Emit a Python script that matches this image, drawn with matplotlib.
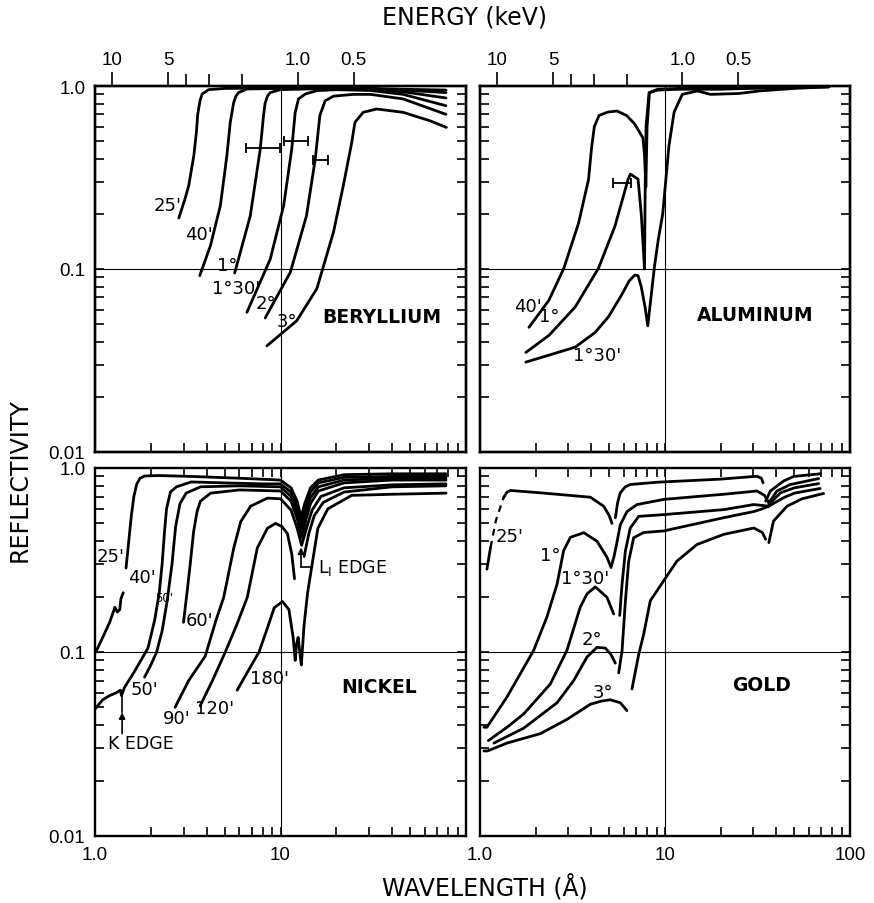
import matplotlib
matplotlib.use("Agg")
import matplotlib.pyplot as plt
from matplotlib.ticker import LogLocator, NullFormatter, FixedLocator

plt.rcParams['font.family'] = ['Liberation Sans', 'DejaVu Sans']
plt.rcParams['mathtext.default'] = 'regular'

# ---------------- DATA ----------------
HC = 12.398  # keV*Angstrom
ENERGY_MAJOR = [10, 5, 1.0, 0.5]
ENERGY_MAJOR_LABELS = ['10', '5', '1.0', '0.5']
ENERGY_MINOR = [4, 3, 2]

# ---- Beryllium ----
BE_25_LAM = [2.83, 3.05, 3.20, 3.41, 3.52, 3.58, 3.68, 3.78, 4.1, 5.0, 10.0, 20.0, 30.6, 45.8, 78.0]
BE_25_R = [0.19, 0.24, 0.285, 0.416, 0.558, 0.70, 0.83, 0.904, 0.955, 0.97, 0.975, 0.975, 0.97, 0.96, 0.95]
BE_40_LAM = [3.67, 4.19, 4.74, 5.14, 5.36, 5.59, 5.75, 5.94, 6.59, 10.0, 20.0, 30.6, 45.8, 78.0]
BE_40_R = [0.092, 0.134, 0.222, 0.416, 0.633, 0.81, 0.88, 0.92, 0.963, 0.97, 0.97, 0.965, 0.95, 0.92]
BE_1_LAM = [5.66, 6.87, 7.78, 8.1, 8.25, 8.5, 8.8, 9.96, 15.0, 20.0, 30.6, 45.8, 78.0]
BE_1_R = [0.095, 0.195, 0.453, 0.69, 0.80, 0.88, 0.92, 0.955, 0.965, 0.965, 0.955, 0.93, 0.86]
BE_130_LAM = [6.59, 8.8, 10.4, 11.5, 12.0, 12.5, 13.6, 15.7, 20.0, 30.6, 45.8, 78.0]
BE_130_R = [0.058, 0.113, 0.222, 0.453, 0.718, 0.85, 0.904, 0.943, 0.955, 0.945, 0.90, 0.78]
BE_2_LAM = [8.27, 11.3, 13.8, 15.4, 16.3, 17.4, 19.3, 24.7, 30.6, 45.8, 78.0]
BE_2_R = [0.054, 0.096, 0.195, 0.40, 0.69, 0.83, 0.88, 0.90, 0.90, 0.85, 0.70]
BE_3_LAM = [8.44, 12.2, 15.7, 19.3, 21.8, 24.2, 25.2, 27.9, 33.0, 45.8, 63.8, 78.4]
BE_3_R = [0.038, 0.052, 0.078, 0.159, 0.285, 0.49, 0.633, 0.718, 0.749, 0.718, 0.646, 0.594]
BE_EB_LO = [6.54, 10.4, 15.0]
BE_EB_HI = [9.96, 14.0, 18.1]
BE_EB_R = [0.458, 0.50, 0.396]
BE_LABELS = ["25'", "40'", "1°", "1°30'", "2°", "3°"]
BE_LABEL_X = [2.47, 3.64, 5.15, 5.75, 8.34, 10.8]
BE_LABEL_Y = [0.224, 0.155, 0.105, 0.0785, 0.065, 0.052]

# ---- Aluminum ----
AL_40_LAM = [1.84, 2.36, 2.84, 3.41, 3.86, 4.0, 4.15, 4.4, 4.9, 5.5, 6.2, 6.86, 7.6, 7.75, 7.88, 8.0, 8.24, 9.14, 12, 20, 40, 77]
AL_40_R = [0.048, 0.0676, 0.101, 0.178, 0.308, 0.45, 0.60, 0.69, 0.72, 0.73, 0.69, 0.62, 0.52, 0.42, 0.28, 0.60, 0.92, 0.96, 0.97, 0.97, 0.98, 0.99]
AL_1_LAM = [1.77, 2.36, 3.27, 4.37, 5.36, 6.31, 6.5, 7.15, 7.44, 7.6, 7.75, 7.82, 7.9, 8.2, 9.14, 12, 20, 40, 77]
AL_1_R = [0.035, 0.0434, 0.062, 0.101, 0.171, 0.308, 0.33, 0.31, 0.20, 0.14, 0.10, 0.30, 0.60, 0.92, 0.95, 0.96, 0.96, 0.98, 0.99]
AL_130_LAM = [1.77, 2.4, 3.27, 4.19, 4.94, 5.82, 6.4, 6.86, 7.15, 7.44, 7.8, 8.07, 8.4, 8.77, 9.2, 9.72, 10.5, 11.2, 12.4, 15, 17.6, 25, 32.6, 50, 77]
AL_130_R = [0.031, 0.034, 0.0374, 0.045, 0.0547, 0.072, 0.086, 0.0927, 0.092, 0.080, 0.062, 0.049, 0.07, 0.103, 0.145, 0.20, 0.47, 0.72, 0.90, 0.94, 0.90, 0.91, 0.94, 0.97, 0.99]
AL_EB_LO = [5.25]
AL_EB_HI = [6.58]
AL_EB_R = [0.296]
AL_LABELS = ["40'", "1°", "1°30'"]
AL_LABEL_X = [1.82, 2.36, 4.27]
AL_LABEL_Y = [0.063, 0.0555, 0.0337]

# ---- Nickel ----
NI_25A_LAM = [1.01, 1.1, 1.2, 1.28, 1.32, 1.36, 1.38, 1.42]
NI_25A_R = [0.100, 0.120, 0.145, 0.175, 0.165, 0.170, 0.195, 0.210]
NI_25B_LAM = [1.47, 1.52, 1.57, 1.62, 1.68, 1.75, 1.85, 2.2, 3.3, 6.0, 10.0, 11.4, 12.3, 12.9, 13.5, 14.5, 16, 22, 40, 78]
NI_25B_R = [0.286, 0.40, 0.55, 0.70, 0.82, 0.88, 0.905, 0.91, 0.90, 0.88, 0.86, 0.78, 0.66, 0.54, 0.64, 0.78, 0.86, 0.92, 0.93, 0.93]
NI_40_LAM = [1.0, 1.1, 1.2, 1.3, 1.37, 1.39, 1.44, 1.64, 1.93, 2.10, 2.22, 2.30, 2.37, 2.43, 2.55, 2.75, 3.3, 5.0, 8.0, 10, 11.4, 12.3, 12.9, 13.5, 14.5, 16, 22, 40, 78]
NI_40_R = [0.049, 0.055, 0.058, 0.060, 0.062, 0.058, 0.064, 0.079, 0.105, 0.15, 0.21, 0.30, 0.45, 0.60, 0.74, 0.79, 0.84, 0.83, 0.82, 0.82, 0.74, 0.61, 0.49, 0.60, 0.74, 0.83, 0.89, 0.90, 0.90]
NI_50_LAM = [1.85, 2.0, 2.15, 2.3, 2.45, 2.6, 2.72, 2.87, 3.1, 3.7, 6, 10, 11.4, 12.3, 12.95, 13.6, 14.5, 16, 22, 40, 78]
NI_50_R = [0.073, 0.085, 0.10, 0.13, 0.19, 0.30, 0.48, 0.64, 0.73, 0.79, 0.80, 0.79, 0.70, 0.57, 0.45, 0.56, 0.69, 0.79, 0.86, 0.88, 0.88]
NI_60_LAM = [3.0, 3.15, 3.26, 3.4, 3.55, 3.7, 4.2, 6, 10, 11.4, 12.3, 13.0, 13.7, 14.5, 16, 22, 40, 78]
NI_60_R = [0.145, 0.22, 0.30, 0.45, 0.58, 0.66, 0.73, 0.76, 0.75, 0.66, 0.53, 0.42, 0.52, 0.64, 0.75, 0.83, 0.86, 0.86]
NI_90_LAM = [2.70, 3.2, 3.93, 4.5, 4.94, 5.6, 6.1, 6.9, 8.5, 10, 11.4, 12.3, 13.0, 13.8, 14.8, 16.5, 22, 40, 78]
NI_90_R = [0.050, 0.070, 0.095, 0.15, 0.198, 0.368, 0.51, 0.62, 0.686, 0.68, 0.59, 0.47, 0.38, 0.47, 0.59, 0.70, 0.78, 0.81, 0.82]
NI_120A_LAM = [3.69, 4.3, 5.04, 5.8, 6.62, 7.5, 8.5, 9.4, 10.2, 10.9, 11.5, 11.9]
NI_120A_R = [0.051, 0.07, 0.10, 0.14, 0.198, 0.368, 0.47, 0.50, 0.48, 0.44, 0.34, 0.25]
NI_120B_LAM = [13.4, 14.2, 15.2, 17, 22, 40, 78]
NI_120B_R = [0.33, 0.44, 0.55, 0.65, 0.74, 0.79, 0.80]
NI_180_LAM = [5.84, 6.5, 7.66, 8.5, 9.25, 10.25, 11.1, 11.7, 12.0, 12.2, 12.45, 12.7, 12.95, 13.4, 14.0, 14.6, 15.9, 18, 24.2, 40, 78]
NI_180_R = [0.062, 0.075, 0.10, 0.135, 0.174, 0.188, 0.17, 0.12, 0.09, 0.11, 0.12, 0.10, 0.085, 0.14, 0.21, 0.274, 0.47, 0.60, 0.71, 0.72, 0.73]
NI_LABELS = ["25'", "40'", "50'", "60'", "50'", "90'", "120'", "180'"]
NI_LABEL_X = [1.22, 1.79, 2.37, 3.64, 1.85, 2.75, 4.40, 8.68]
NI_LABEL_Y = [0.334, 0.255, 0.199, 0.149, 0.0633, 0.0438, 0.0496, 0.0726]
NI_LABEL_SIZE = [13, 13, 8.5, 13, 13, 13, 13, 13]
NI_K_EDGE = [1.40, 0.036, 0.047, 0.060]   # x, arrow tail, arrow head, curve
NI_K_TEXT = [1.17, 0.0319]
NI_L_EDGE = [12.9, 0.29, 0.37, 14.6]      # x, bracket y, arrow head y, bracket end x
NI_L_TEXT = [15.9, 0.29]

# ---- Gold ----
AU_25A_LAM = [1.09, 1.14]
AU_25A_R = [0.282, 0.37]
AU_25D_LAM = [1.14, 1.22, 1.34]
AU_25D_R = [0.37, 0.52, 0.69]
AU_25B_LAM = [1.34, 1.40, 1.46, 2.12, 3.95, 4.66, 5.0, 5.17]
AU_25B_R = [0.69, 0.74, 0.755, 0.733, 0.694, 0.62, 0.55, 0.50]
AU_25C_LAM = [5.39, 5.55, 5.73, 6.1, 6.49, 9.05, 20, 31.4, 33.2, 33.9]
AU_25C_R = [0.537, 0.65, 0.733, 0.79, 0.813, 0.837, 0.87, 0.902, 0.88, 0.83]
AU_25E_LAM = [35.0, 37.1, 43.8, 49.6, 69]
AU_25E_R = [0.66, 0.75, 0.85, 0.90, 0.93]
AU_1_LAM = [1.05, 1.09, 1.40, 1.95, 2.30, 2.61, 2.83, 3.08, 3.64, 4.29, 4.86, 5.11, 5.30, 5.46, 5.73, 6.23, 7.06, 9.84, 14.9, 20.8, 31.4, 34.5, 36.4]
AU_1_R = [0.039, 0.039, 0.057, 0.102, 0.155, 0.234, 0.355, 0.42, 0.445, 0.40, 0.327, 0.288, 0.33, 0.38, 0.49, 0.58, 0.633, 0.675, 0.70, 0.72, 0.75, 0.71, 0.647]
AU_1B_LAM = [36.4, 40.3, 47.6, 67.7]
AU_1B_R = [0.647, 0.75, 0.813, 0.876]
AU_130A_LAM = [1.11, 1.4, 1.72, 2.40, 2.95, 3.48, 3.79, 4.2, 4.86, 5.28]
AU_130A_R = [0.033, 0.039, 0.046, 0.067, 0.102, 0.175, 0.207, 0.226, 0.198, 0.161]
AU_130B_LAM = [5.69, 5.86, 6.11, 6.49, 7.21, 9.84, 20.8, 30.2, 36.4]
AU_130B_R = [0.158, 0.234, 0.355, 0.472, 0.546, 0.558, 0.594, 0.633, 0.62]
AU_130C_LAM = [36.4, 42.1, 50, 67.7]
AU_130C_R = [0.633, 0.733, 0.78, 0.823]
AU_2A_LAM = [1.19, 1.72, 2.61, 3.21, 3.79, 4.29, 4.76, 5.1, 5.39]
AU_2A_R = [0.032, 0.0385, 0.053, 0.070, 0.094, 0.106, 0.105, 0.097, 0.087]
AU_2B_LAM = [5.62, 5.86, 6.11, 6.36, 6.77, 7.67, 9.84, 20.8, 30.2, 33.6, 36.4]
AU_2B_R = [0.077, 0.102, 0.19, 0.31, 0.418, 0.446, 0.455, 0.537, 0.58, 0.60, 0.62]
AU_2C_LAM = [36.4, 43.8, 50, 69]
AU_2C_R = [0.62, 0.69, 0.73, 0.774]
AU_3A_LAM = [1.05, 1.10, 1.40, 2.12, 2.95, 3.95, 4.5, 5.06, 5.73, 6.23]
AU_3A_R = [0.029, 0.029, 0.032, 0.036, 0.043, 0.052, 0.054, 0.055, 0.053, 0.048]
AU_3B_LAM = [6.63, 7.21, 7.67, 8.33, 9.05, 9.84, 11.6, 14.9, 20.8, 30.2, 33.6, 35.0]
AU_3B_R = [0.063, 0.097, 0.125, 0.19, 0.215, 0.244, 0.312, 0.384, 0.436, 0.472, 0.446, 0.41]
AU_3C_LAM = [36.4, 38.6, 45.7, 55, 72]
AU_3C_R = [0.393, 0.515, 0.62, 0.68, 0.727]
AU_LABELS = ["25'", "1°", "1°30'", "2°", "3°"]
AU_LABEL_X = [1.44, 2.41, 3.70, 4.02, 4.64]
AU_LABEL_Y = [0.428, 0.336, 0.254, 0.118, 0.0608]

PANEL_NAMES = ["BERYLLIUM", "ALUMINUM", "NICKEL", "GOLD"]
PANEL_NAME_X = [35.3, 30.9, 34.0, 33.4]
PANEL_NAME_Y = [0.055, 0.0566, 0.0653, 0.0669]

# ---------------- FIGURE ----------------
W, H = 874, 904
fig = plt.figure(figsize=(W / 100, H / 100), dpi=100)


def add_ax(x0, ytop, w, h):
    return fig.add_axes([x0 / W, 1 - (ytop + h) / H, w / W, h / H])


ax_be = add_ax(95, 87, 371, 366)
ax_al = add_ax(480, 87, 370, 366)
ax_ni = add_ax(95, 469, 371, 368)
ax_au = add_ax(480, 469, 370, 368)
axes = [ax_be, ax_al, ax_ni, ax_au]

LW = 2.0
TICKFS = 13.5
LABFS = 13
LABFAM = 'DejaVu Sans'

for ax in axes:
    ax.set_xscale('log')
    ax.set_yscale('log')
    ax.set_xlim(1, 100)
    ax.set_ylim(0.01, 1.0)
    ax.xaxis.set_major_locator(FixedLocator([1, 10, 100]))
    ax.yaxis.set_major_locator(FixedLocator([0.01, 0.1, 1.0]))
    ax.xaxis.set_minor_locator(LogLocator(base=10, subs=range(2, 10)))
    ax.yaxis.set_minor_locator(LogLocator(base=10, subs=range(2, 10)))
    ax.xaxis.set_minor_formatter(NullFormatter())
    ax.yaxis.set_minor_formatter(NullFormatter())
    ax.tick_params(which='both', direction='in', top=True, right=True,
                   length=6.5, width=1.2, labelsize=TICKFS, pad=7)
    for sp in ax.spines.values():
        sp.set_linewidth(1.7)
    ax.axvline(10, lw=0.8, color='k', zorder=1)
    ax.axhline(0.1, lw=0.8, color='k', zorder=1)

# tick labels
for ax in [ax_be, ax_ni]:
    ax.set_yticklabels(['0.01', '0.1', '1.0'])
for ax in [ax_al, ax_au]:
    ax.set_yticklabels([])
for ax in [ax_be, ax_al]:
    ax.set_xticklabels([])
ax_ni.set_xticklabels(['1.0', '10', ''])
ax_au.set_xticklabels(['1.0', '10', '100'])

# energy axes on top panels
for ax in [ax_be, ax_al]:
    tw = ax.twiny()
    tw.set_xscale('log')
    tw.set_xlim(1, 100)
    tw.xaxis.set_major_locator(FixedLocator([HC / e for e in ENERGY_MAJOR]))
    tw.xaxis.set_minor_locator(FixedLocator([HC / e for e in ENERGY_MINOR]))
    tw.set_xticklabels(ENERGY_MAJOR_LABELS)
    tw.xaxis.set_minor_formatter(NullFormatter())
    tw.tick_params(which='major', direction='out', length=10, width=1.2,
                   labelsize=TICKFS, pad=3)
    tw.tick_params(which='minor', direction='out', length=9, width=1.2)
    for sp in tw.spines.values():
        sp.set_linewidth(1.7)


def curve(ax, lam, r, **kw):
    kw.setdefault('lw', LW)
    kw.setdefault('color', 'k')
    ax.plot(lam, r, solid_capstyle='round', solid_joinstyle='round', **kw)


def labels(ax, texts, xs, ys, sizes=None):
    for i, (t, x, y) in enumerate(zip(texts, xs, ys)):
        fs = LABFS if sizes is None else sizes[i]
        ax.text(x, y, t, ha='center', va='center', fontsize=fs, family=LABFAM)


def errbars(ax, lo, hi, r):
    xc = [(a * b) ** 0.5 for a, b in zip(lo, hi)]
    xerr = [[c - a for c, a in zip(xc, lo)], [b - c for c, b in zip(xc, hi)]]
    ax.errorbar(xc, r, xerr=xerr, fmt='none', ecolor='k', elinewidth=1.3,
                capsize=3.5, capthick=1.3)


# Beryllium
for lam, r in [(BE_25_LAM, BE_25_R), (BE_40_LAM, BE_40_R), (BE_1_LAM, BE_1_R),
               (BE_130_LAM, BE_130_R), (BE_2_LAM, BE_2_R), (BE_3_LAM, BE_3_R)]:
    curve(ax_be, lam, r)
errbars(ax_be, BE_EB_LO, BE_EB_HI, BE_EB_R)
labels(ax_be, BE_LABELS, BE_LABEL_X, BE_LABEL_Y)

# Aluminum
for lam, r in [(AL_40_LAM, AL_40_R), (AL_1_LAM, AL_1_R), (AL_130_LAM, AL_130_R)]:
    curve(ax_al, lam, r)
errbars(ax_al, AL_EB_LO, AL_EB_HI, AL_EB_R)
labels(ax_al, AL_LABELS, AL_LABEL_X, AL_LABEL_Y)

# Nickel
for lam, r in [(NI_25A_LAM, NI_25A_R), (NI_25B_LAM, NI_25B_R), (NI_40_LAM, NI_40_R),
               (NI_50_LAM, NI_50_R), (NI_60_LAM, NI_60_R), (NI_90_LAM, NI_90_R),
               (NI_120A_LAM, NI_120A_R), (NI_120B_LAM, NI_120B_R), (NI_180_LAM, NI_180_R)]:
    curve(ax_ni, lam, r)
labels(ax_ni, NI_LABELS, NI_LABEL_X, NI_LABEL_Y, NI_LABEL_SIZE)
kx, ktail, khead, kcurve = NI_K_EDGE
ax_ni.plot([kx, kx], [khead, kcurve], color='k', lw=1.2)
ax_ni.annotate('', xy=(kx, khead), xytext=(kx, ktail),
               arrowprops=dict(arrowstyle='-|>', color='k', lw=1.2,
                               mutation_scale=9, shrinkA=0, shrinkB=0))
ax_ni.text(NI_K_TEXT[0], NI_K_TEXT[1], 'K EDGE', ha='left', va='center',
           fontsize=LABFS - 0.5, family=LABFAM)
lx, ly, lhead, lend = NI_L_EDGE
ax_ni.plot([lx, lend], [ly, ly], color='k', lw=1.2)
ax_ni.annotate('', xy=(lx, lhead), xytext=(lx, ly),
               arrowprops=dict(arrowstyle='-|>', color='k', lw=1.2,
                               mutation_scale=9, shrinkA=0, shrinkB=0))
ax_ni.text(NI_L_TEXT[0], NI_L_TEXT[1], r'L$_{\mathrm{I}}$ EDGE', ha='left', va='center',
           fontsize=LABFS - 0.5, family=LABFAM)

# Gold
for lam, r in [(AU_25A_LAM, AU_25A_R), (AU_25B_LAM, AU_25B_R), (AU_25C_LAM, AU_25C_R),
               (AU_25E_LAM, AU_25E_R), (AU_1_LAM, AU_1_R), (AU_1B_LAM, AU_1B_R),
               (AU_130A_LAM, AU_130A_R), (AU_130B_LAM, AU_130B_R), (AU_130C_LAM, AU_130C_R),
               (AU_2A_LAM, AU_2A_R), (AU_2B_LAM, AU_2B_R), (AU_2C_LAM, AU_2C_R),
               (AU_3A_LAM, AU_3A_R), (AU_3B_LAM, AU_3B_R), (AU_3C_LAM, AU_3C_R)]:
    curve(ax_au, lam, r)
curve(ax_au, AU_25D_LAM, AU_25D_R, lw=1.6, ls=(0, (3, 2.5)))
labels(ax_au, AU_LABELS, AU_LABEL_X, AU_LABEL_Y)

# panel names
for ax, name, x, y in zip(axes, PANEL_NAMES, PANEL_NAME_X, PANEL_NAME_Y):
    ax.text(x, y, name, ha='center', va='center', fontsize=13.5, fontweight='bold',
            family='DejaVu Sans')

# axis titles
fig.text(465 / W, 1 - 18 / H, 'ENERGY (keV)', ha='center', va='center', fontsize=17,
         family='DejaVu Sans')
fig.text(485 / W, 1 - 887 / H, 'WAVELENGTH (Å)', ha='center', va='center', fontsize=17,
         family='DejaVu Sans')
fig.text(20 / W, 1 - 480 / H, 'REFLECTIVITY', ha='center', va='center', fontsize=17,
         rotation=90, family='DejaVu Sans')

fig.savefig('out.png', dpi=100, facecolor='white')
